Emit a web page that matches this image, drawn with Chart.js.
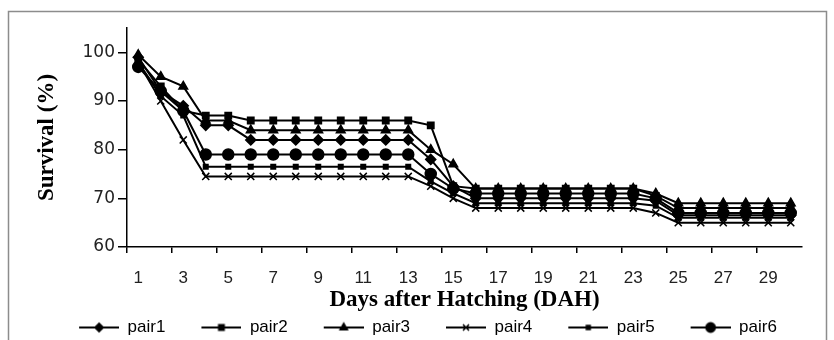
<!DOCTYPE html>
<html>
<head>
<meta charset="utf-8">
<script src="https://cdn.jsdelivr.net/npm/chart.js@4.4.1/dist/chart.umd.min.js"></script>
<style>
  html, body { margin: 0; padding: 0; background: #fff; overflow: hidden; }
  #wrap { position: relative; width: 834px; height: 340px; overflow: hidden; }
</style>
</head>
<body>
<div id="wrap"><canvas id="survChart" width="834" height="346"></canvas></div>
<script>
const days = ['1','2','3','4','5','6','7','8','9','10','11','12','13','14','15',
              '16','17','18','19','20','21','22','23','24','25','26','27','28','29','30'];
const yTicks = [60, 70, 80, 90, 100];

const pair1 = [99, 92, 89, 85, 85, 82, 82, 82, 82, 82, 82, 82, 82, 78, 72.5,
               70, 70, 70, 70, 70, 70, 70, 70, 69.5, 66.5, 66.5, 66.5, 66.5, 66.5, 66.5];
const pair2 = [98.5, 93, 88, 87, 87, 86, 86, 86, 86, 86, 86, 86, 86, 85, 72.5,
               72, 72, 72, 72, 72, 72, 72, 72, 70.5, 68, 68, 68, 68, 68, 68];
const pair3 = [99.5, 95, 93, 86, 86, 84, 84, 84, 84, 84, 84, 84, 84, 80, 77,
               72, 72, 72, 72, 72, 72, 72, 72, 71, 69, 69, 69, 69, 69, 69];
const pair4 = [98, 90, 82, 74.5, 74.5, 74.5, 74.5, 74.5, 74.5, 74.5, 74.5, 74.5, 74.5, 72.5, 70,
               68, 68, 68, 68, 68, 68, 68, 68, 67, 65, 65, 65, 65, 65, 65];
const pair5 = [98, 91, 87, 76.5, 76.5, 76.5, 76.5, 76.5, 76.5, 76.5, 76.5, 76.5, 76.5, 73.5, 71,
               69, 69, 69, 69, 69, 69, 69, 69, 68.5, 66, 66, 66, 66, 66, 66];
const pair6 = [97, 92, 88, 79, 79, 79, 79, 79, 79, 79, 79, 79, 79, 75, 72,
               71, 71, 71, 71, 71, 71, 71, 71, 70, 67, 67, 67, 67, 67, 67];

const series = [
    { label: 'pair1', data: pair1, style: 'rectRot', r: 5 },
    { label: 'pair2', data: pair2, style: 'rect', r: 4.5 },
    { label: 'pair3', data: pair3, style: 'triangle', r: 5 },
    { label: 'pair4', data: pair4, style: 'crossRot', r: 5 },
    { label: 'pair5', data: pair5, style: 'rect', r: 3.2 },
    { label: 'pair6', data: pair6, style: 'circle', r: 5.5 }
];

// legend swatch: line with marker, left part transparent to space the items
const makeSwatch = (style, r) => {
    const c = document.createElement('canvas');
    c.width = 74; c.height = 14;
    const ctx = c.getContext('2d');
    ctx.strokeStyle = '#000';
    ctx.fillStyle = '#000';
    ctx.lineWidth = 2;
    ctx.beginPath();
    ctx.moveTo(34, 7);
    ctx.lineTo(74, 7);
    ctx.stroke();
    ctx.lineWidth = 1.5;
    Chart.helpers.drawPoint(ctx, { pointStyle: style, radius: r * 0.85, borderWidth: 1.5 }, 54, 7);
    return c;
};

const framePlugin = {
    id: 'frame',
    beforeDraw(chart) {
        const ctx = chart.ctx;
        ctx.save();
        ctx.strokeStyle = '#8c8c8c';
        ctx.lineWidth = 1.5;
        ctx.beginPath();
        ctx.moveTo(8.5, 400);
        ctx.lineTo(8.5, 11.5);
        ctx.lineTo(826.5, 11.5);
        ctx.lineTo(826.5, 400);
        ctx.stroke();
        ctx.restore();
    }
};

window.addEventListener('load', () => {
    const canvas = document.getElementById('survChart');
    new Chart(canvas.getContext('2d'), {
        type: 'line',
        data: {
            labels: days,
            datasets: series.map(s => ({
                label: s.label,
                data: s.data,
                borderColor: '#000',
                backgroundColor: '#000',
                borderWidth: 2,
                tension: 0,
                fill: false,
                pointStyle: s.style,
                pointRadius: s.r,
                pointBorderWidth: 1.5,
                pointBackgroundColor: '#000',
                pointBorderColor: '#000'
            }))
        },
        options: {
            responsive: false,
            animation: false,
            devicePixelRatio: 1,
            layout: { padding: { left: 20, right: 32, top: 28, bottom: 0 } },
            plugins: {
                legend: {
                    position: 'bottom',
                    labels: {
                        usePointStyle: true,
                        pointStyleWidth: 74,
                        padding: 2,
                        color: '#000',
                        font: { family: 'Liberation Sans', size: 17 },
                        generateLabels: (chart) => {
                            const items = Chart.defaults.plugins.legend.labels.generateLabels(chart);
                            return items.map((it, i) => {
                                it.pointStyle = makeSwatch(series[i].style, series[i].r);
                                return it;
                            });
                        }
                    }
                },
                tooltip: { enabled: false }
            },
            scales: {
                x: {
                    offset: true,
                    afterFit: (scale) => { scale.height = 70; },
                    grid: {
                        offset: true,
                        drawOnChartArea: false,
                        drawTicks: true,
                        tickLength: 6,
                        lineWidth: 1.5,
                        color: (c) => (c.index % 2 === 0 ? '#000' : 'rgba(0,0,0,0)')
                    },
                    border: { color: '#000', width: 1.5 },
                    ticks: {
                        autoSkip: false,
                        maxRotation: 0,
                        padding: 15,
                        color: '#222',
                        font: { family: 'Liberation Sans', size: 17 },
                        callback: (v, i) => (i % 2 === 0 ? days[i] : '')
                    },
                    title: {
                        display: true,
                        text: 'Days after Hatching (DAH)',
                        color: '#000',
                        padding: { top: 0, bottom: 3 },
                        font: { family: 'Liberation Serif', size: 23, weight: 'bold' }
                    }
                },
                y: {
                    min: 60,
                    max: 105,
                    afterFit: (scale) => { scale.width = 107; },
                    afterBuildTicks: (scale) => { scale.ticks = yTicks.map(v => ({ value: v })); },
                    grid: {
                        drawOnChartArea: false,
                        drawTicks: true,
                        tickLength: 9,
                        lineWidth: 1.5,
                        color: '#000'
                    },
                    border: { color: '#000', width: 1.5 },
                    ticks: {
                        padding: 3,
                        color: '#222',
                        font: { family: 'DejaVu Sans', size: 17 }
                    },
                    title: {
                        display: true,
                        text: 'Survival (%)',
                        color: '#000',
                        padding: { top: 13, bottom: 0 },
                        font: { family: 'Liberation Serif', size: 23, weight: 'bold' }
                    }
                }
            }
        },
        plugins: [framePlugin]
    });
});
</script>
</body>
</html>
